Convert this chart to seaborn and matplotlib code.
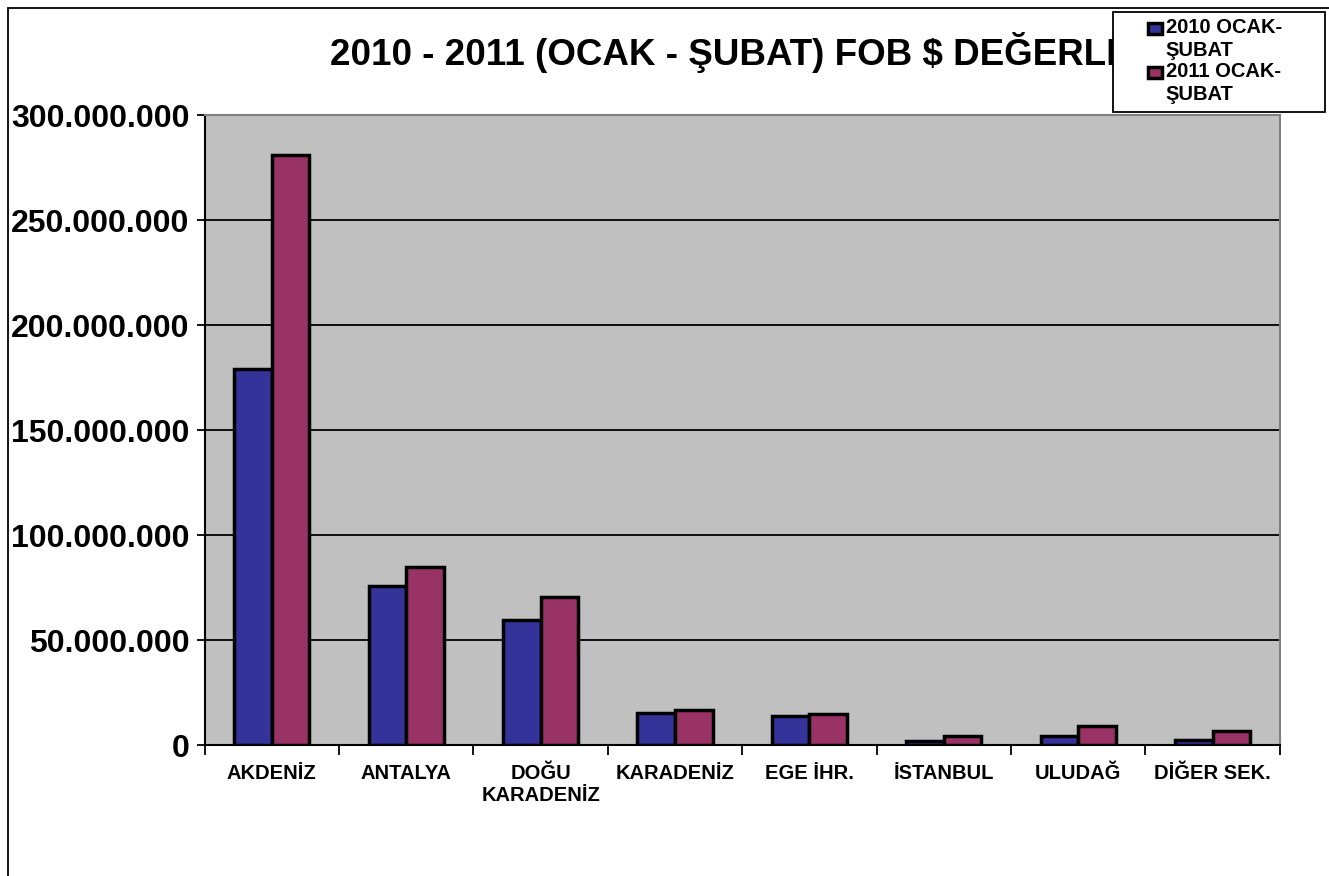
import matplotlib
matplotlib.use("Agg")
import matplotlib.pyplot as plt
from matplotlib.ticker import FuncFormatter, FixedLocator
from matplotlib.patches import Rectangle
from matplotlib.legend_handler import HandlerPatch
import pandas as pd
import seaborn as sns

regions = ["AKDENİZ", "ANTALYA", "DOĞU\nKARADENİZ", "KARADENİZ", "EGE İHR.",
           "İSTANBUL", "ULUDAĞ", "DİĞER SEK."]
fob_2010 = [179_000_000, 75_800_000, 59_500_000, 15_200_000, 13_800_000,
            1_800_000, 4_300_000, 2_400_000]
fob_2011 = [281_000_000, 84_800_000, 70_500_000, 16_700_000, 14_800_000,
            4_300_000, 9_000_000, 6_700_000]
series = ["2010 OCAK-\nŞUBAT", "2011 OCAK-\nŞUBAT"]

df = pd.DataFrame({"region": regions * 2,
                   "value": fob_2010 + fob_2011,
                   "series": [series[0]] * len(regions) + [series[1]] * len(regions)})

sns.set_style("white")
plt.rcParams["font.family"] = ["Liberation Sans", "DejaVu Sans"]
plt.rcParams["font.weight"] = "bold"
plt.rcParams["text.color"] = "black"
plt.rcParams["xtick.color"] = "black"
plt.rcParams["ytick.color"] = "black"

fig = plt.figure(figsize=(13.29, 8.76), dpi=100)
ax = fig.add_axes([0.154, 0.1495, 0.809, 0.7192])
ax.set_facecolor("#C0C0C0")

sns.barplot(data=df, x="region", y="value", hue="series",
            palette=["#333399", "#993366"], saturation=1, width=0.56, errorbar=None,
            edgecolor="black", linewidth=2.5, ax=ax, zorder=3)

ax.set_ylim(0, 300_000_000)
ax.set_xlim(-0.5, len(regions) - 0.5)
ax.yaxis.set_major_locator(FixedLocator(range(0, 300_000_001, 50_000_000)))
ax.yaxis.set_major_formatter(FuncFormatter(lambda v, p: f"{int(v):,}".replace(",", ".")))
ax.grid(axis="y", color="black", linewidth=1.3, zorder=1)
ax.set_axisbelow(True)

ax.tick_params(axis="y", labelsize=23, length=6, width=1.3, color="black",
               labelcolor="black", left=True, pad=5)
ax.tick_params(axis="x", which="major", length=0, labelsize=14.5, labelcolor="black", pad=14)
ax.xaxis.set_minor_locator(FixedLocator([i - 0.5 for i in range(len(regions) + 1)]))
ax.tick_params(axis="x", which="minor", length=7, width=1.3, color="black", bottom=True)
for lbl in ax.get_yticklabels() + ax.get_xticklabels():
    lbl.set_fontweight("bold")

for side in ["left", "bottom"]:
    ax.spines[side].set_color("black")
    ax.spines[side].set_linewidth(1.5)
for side in ["top", "right"]:
    ax.spines[side].set_color("#808080")
    ax.spines[side].set_linewidth(1.5)

ax.set_xlabel("")
ax.set_ylabel("")

fig.text(0.563, 0.94, "2010 - 2011 (OCAK - ŞUBAT) FOB $ DEĞERLERİ",
         ha="center", va="center", fontsize=26.5, fontweight="bold", color="black",
         zorder=3)

# legend box drawn separately (wide left padding as in the original)
fig.patches.append(Rectangle((0.8375, 0.8721), 0.1595, 0.1142, transform=fig.transFigure,
                             facecolor="white", edgecolor="black", linewidth=1.3, zorder=5))


# legend square next to the first line of the two-line label
def top_square(legend, orig_handle, xdescent, ydescent, width, height, fontsize):
    return Rectangle((-xdescent, -ydescent + 8), width, height)


handles, labels = ax.get_legend_handles_labels()
ax.get_legend().remove()
leg = fig.legend(handles, labels, loc="upper left", bbox_to_anchor=(0.8635, 0.979),
                 frameon=False, fontsize=14.5,
                 handlelength=0.7, handleheight=0.5, handletextpad=0.2,
                 borderpad=0.0, labelspacing=0.1, borderaxespad=0,
                 handler_map={h: HandlerPatch(patch_func=top_square) for h in handles})
leg.set_zorder(10)
for t in leg.get_texts():
    t.set_fontweight("bold")
    t.set_color("black")
    t.set_linespacing(1.25)

fig.patches.append(Rectangle((0.006, -0.05), 1.1, 0.0459 + 0.995, transform=fig.transFigure,
                             fill=False, edgecolor="black", linewidth=1.3))

fig.savefig("out.png", dpi=100, facecolor="white")
